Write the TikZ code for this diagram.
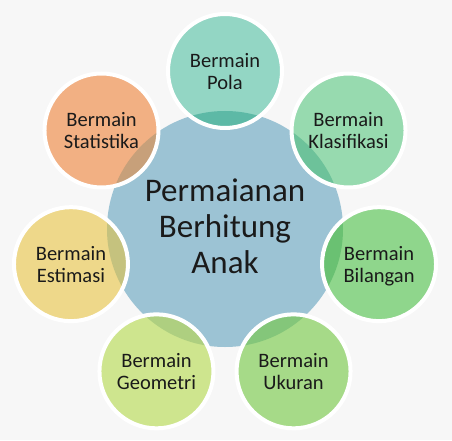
\documentclass[tikz,border=0pt]{standalone}
\usepackage{fontspec}
\setmainfont{Carlito}
\usetikzlibrary{calc}
\definecolor{bgc}{HTML}{F7F7F7}
\definecolor{hubc}{HTML}{9CC3D4}
\definecolor{txtc}{HTML}{1A1A1A}
\definecolor{polaF}{HTML}{93D6C4}\definecolor{polaO}{HTML}{5DB9A6}
\definecolor{klasF}{HTML}{97DAAF}\definecolor{klasO}{HTML}{6DC29A}
\definecolor{bilaF}{HTML}{8FD68C}\definecolor{bilaO}{HTML}{6AC172}
\definecolor{ukurF}{HTML}{A6DA88}\definecolor{ukurO}{HTML}{84C67A}
\definecolor{geomF}{HTML}{CEE58E}\definecolor{geomO}{HTML}{AECF80}
\definecolor{estiF}{HTML}{EED88A}\definecolor{estiO}{HTML}{C5C27E}
\definecolor{statF}{HTML}{F2B083}\definecolor{statO}{HTML}{C7A07A}
\begin{document}
\begin{tikzpicture}[x=1pt,y=1pt,
  petal/.style={circle, minimum size=114pt, inner sep=0pt, draw=white, line width=4pt,
    align=center, text depth=0pt, text=txtc, font=\fontsize{20.5}{22}\selectfont},
  hubtext/.style={align=center, text=txtc, font=\fontsize{33}{36}\selectfont}
]
\fill[bgc] (0,0) rectangle (452,440);
\useasboundingbox (0,0) rectangle (452,440);
\coordinate (c) at (225,211);
\fill[hubc] (c) circle (118);
\foreach \n/\a/\f/\o/\t in {
  pola/90/polaF/polaO/{Bermain\\Pola},
  klas/38.5714/klasF/klasO/{Bermain\\Klasifikasi},
  bila/-12.8571/bilaF/bilaO/{Bermain\\Bilangan},
  ukur/-64.2857/ukurF/ukurO/{Bermain\\Ukuran},
  geom/-115.7143/geomF/geomO/{Bermain\\Geometri},
  esti/-167.1429/estiF/estiO/{Bermain\\Estimasi},
  stat/141.4286/statF/statO/{Bermain\\Statistika}}{
  \fill[\f] ($(c)+(\a:158)$) circle (57);
  \begin{scope}
    \clip (c) circle (118);
    \fill[\o] ($(c)+(\a:158)$) circle (57);
  \end{scope}
  \node[petal] (\n) at ($(c)+(\a:158)$) {\t};
}
\node[hubtext] (hub) at (225,213.5) {Permaianan\\Berhitung\\Anak};
\end{tikzpicture}
\end{document}
